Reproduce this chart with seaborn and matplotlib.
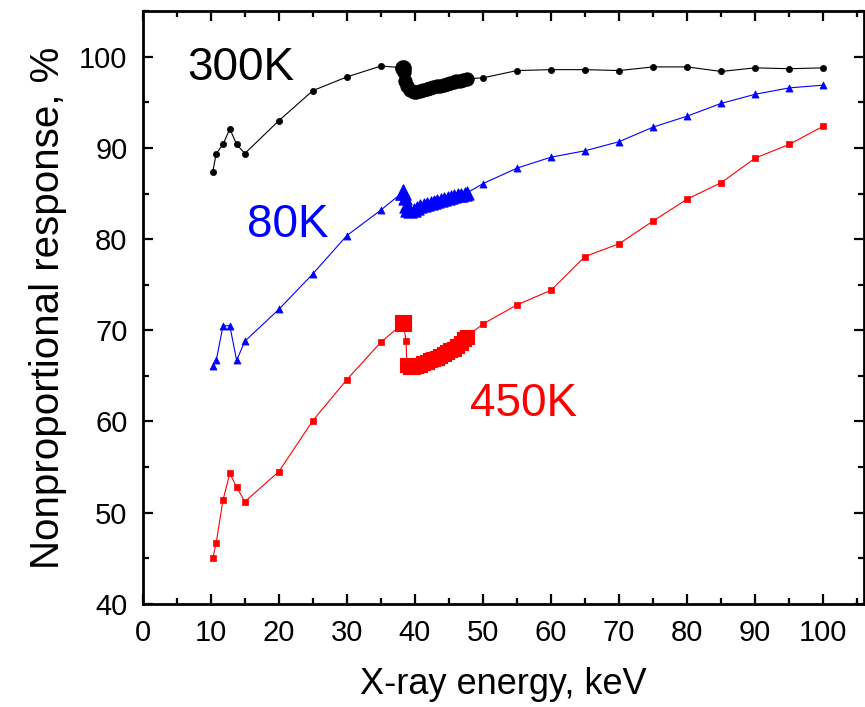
import numpy as np
import pandas as pd
import matplotlib
matplotlib.use('Agg')
import matplotlib.pyplot as plt
from matplotlib.ticker import MultipleLocator
import seaborn as sns

# sparse scan below the K-edge (same energies for all three temperatures)
energy_low = [10.3, 10.8, 11.8, 12.8, 13.8, 15.0, 20.0, 25.0, 30.0, 35.0]
resp300_low = [87.4, 89.4, 90.4, 92.1, 90.4, 89.4, 93.0, 96.3, 97.8, 99.0]
resp80_low = [66.1, 66.7, 70.5, 70.5, 66.7, 68.8, 72.3, 76.2, 80.4, 83.2]
resp450_low = [45.0, 46.7, 51.4, 54.3, 52.8, 51.2, 54.5, 60.1, 64.6, 68.7]

# point just below the edge
peak_energy = [38.3]
peak300 = [98.8]
peak80 = [85.2]
peak450 = [70.8]

# single point on the drop of the 450K curve
drop450_e = [38.7]
drop450_r = [68.8]

# fine scan above the K-edge
edge300_e = [38.4, 38.5, 38.8, 39.3, 39.8, 40.2, 40.7, 41.2, 41.7, 42.2, 42.7,
             43.2, 43.7, 44.2, 44.7, 45.2, 45.7, 46.1, 46.6, 47.1, 47.6]
edge300_r = [98.3, 97.4, 96.8, 96.4, 96.2, 96.2, 96.3, 96.4, 96.5, 96.6, 96.7,
             96.8, 96.85, 96.9, 97.0, 97.1, 97.2, 97.3, 97.4, 97.5, 97.6]
edge80_e = [38.5, 38.7, 38.9, 39.3, 39.8, 40.3, 40.8, 41.3, 41.8, 42.3, 42.8,
            43.3, 43.8, 44.3, 44.8, 45.3, 45.8, 46.3, 46.8, 47.3, 47.7]
edge80_r = [84.5, 83.6, 83.2, 83.1, 83.2, 83.4, 83.6, 83.7, 83.9, 84.0, 84.1,
            84.2, 84.3, 84.4, 84.5, 84.6, 84.7, 84.8, 84.9, 85.0, 85.1]
edge450_e = [38.8, 39.2, 39.7, 40.2, 40.7, 41.2, 41.7, 42.2, 42.7, 43.2, 43.7,
             44.2, 44.7, 45.2, 45.7, 46.2, 46.7, 47.2, 47.6]
edge450_r = [66.2, 66.0, 66.0, 66.1, 66.2, 66.4, 66.5, 66.7, 66.8, 67.0, 67.2,
             67.4, 67.6, 67.8, 68.0, 68.3, 68.6, 69.0, 69.3]

# sparse scan above the edge
energy_high = [50, 55, 60, 65, 70, 75, 80, 85, 90, 95, 100]
resp300_high = [97.7, 98.5, 98.6, 98.6, 98.5, 98.9, 98.9, 98.4, 98.8, 98.7, 98.8]
resp80_high = [86.1, 87.8, 89.0, 89.7, 90.7, 92.3, 93.5, 94.9, 95.9, 96.6, 96.9]
resp450_high = [70.7, 72.8, 74.4, 78.1, 79.5, 82.0, 84.4, 86.2, 88.9, 90.4, 92.4]

labels = ["300K", "80K", "450K"]

sns.set_theme(style="ticks")
plt.rcParams['font.family'] = ['Liberation Sans', 'DejaVu Sans']
plt.rcParams['text.color'] = 'black'
plt.rcParams['axes.labelcolor'] = 'black'
plt.rcParams['xtick.color'] = 'black'
plt.rcParams['ytick.color'] = 'black'

fig, ax = plt.subplots(figsize=(8.65, 7.07), dpi=100)
fig.subplots_adjust(left=0.165, right=0.999, bottom=0.146, top=0.984)

curves = [
    ("black", "o", 20, resp300_low, peak300, [], [], edge300_e, edge300_r, resp300_high),
    ("blue", "^", 26, resp80_low, peak80, [], [], edge80_e, edge80_r, resp80_high),
    ("red", "s", 20, resp450_low, peak450, drop450_e, drop450_r, edge450_e, edge450_r, resp450_high),
]

for color, mk, ms, r_low, r_peak, d_e, d_r, e_e, e_r, r_high in curves:
    path = pd.DataFrame({
        "E": energy_low + peak_energy + d_e + e_e + energy_high,
        "R": r_low + r_peak + d_r + e_r + r_high,
    })
    sns.lineplot(data=path, x="E", y="R", sort=False, color=color, lw=0.8, ax=ax)
    sparse = pd.DataFrame({"E": energy_low + d_e + energy_high, "R": r_low + d_r + r_high})
    sns.scatterplot(data=sparse, x="E", y="R", marker=mk, s=ms, color=color,
                    edgecolor=color, linewidth=0.5, ax=ax, zorder=3)
    dense = pd.DataFrame({"E": e_e, "R": e_r})
    sns.scatterplot(data=dense, x="E", y="R", marker=mk, s=90, color=color,
                    edgecolor=color, linewidth=0.8, ax=ax, zorder=3)
    sns.scatterplot(x=peak_energy, y=r_peak, marker=mk, s=125, color=color,
                    edgecolor=color, linewidth=0.8, ax=ax, zorder=3)

ax.text(6.6, 97.5, labels[0], color="black", fontsize=33, ha="left", va="baseline")
ax.text(15.3, 80.2, labels[1], color="blue", fontsize=33, ha="left", va="baseline")
ax.text(48.1, 60.6, labels[2], color="red", fontsize=33, ha="left", va="baseline")

ax.set_xlim(0, 106)
ax.set_ylim(40, 105)
ax.xaxis.set_major_locator(MultipleLocator(10))
ax.xaxis.set_minor_locator(MultipleLocator(5))
ax.yaxis.set_major_locator(MultipleLocator(10))
ax.yaxis.set_minor_locator(MultipleLocator(5))
ax.set_xticks(np.arange(0, 101, 10))
ax.set_yticks(np.arange(40, 101, 10))

ax.tick_params(which="both", direction="in", top=True, right=True, width=1.6,
               color="black", labelcolor="black")
ax.tick_params(which="major", length=7, labelsize=21, pad=11)
ax.tick_params(which="minor", length=4)
for sp in ax.spines.values():
    sp.set_visible(True)
    sp.set_linewidth(2.0)
    sp.set_color("black")

ax.set_xlabel("X-ray energy, keV", fontsize=26, labelpad=14, color="black")
ax.set_ylabel("Nonproportional response, %", fontsize=29, labelpad=9, color="black")

plt.savefig("out.png", dpi=100)
plt.close()
